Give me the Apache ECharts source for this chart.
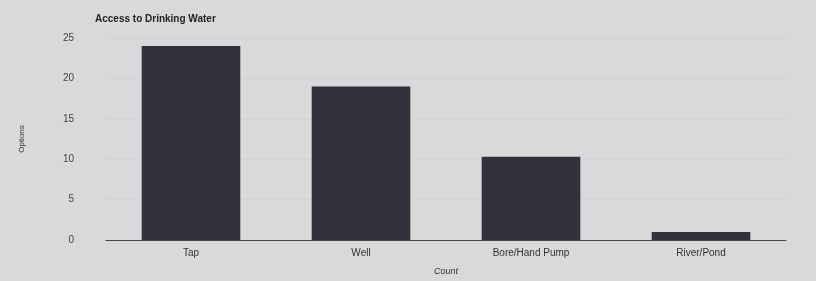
<!DOCTYPE html>
<html>
<head>
<meta charset="utf-8">
<script src="https://cdn.jsdelivr.net/npm/echarts@6/dist/echarts.min.js"></script>
<style>
  html, body { margin: 0; padding: 0; background: #d9d9db; }
  #chart { width: 816px; height: 281px; }
</style>
</head>
<body>
<div id="chart"></div>
<script>
// data
const categories = ["Tap", "Well", "Bore/Hand Pump", "River/Pond"];
const counts = [24, 19, 10.3, 1];
const yTicks = [0, 5, 10, 15, 20, 25];

const chart = echarts.init(document.getElementById("chart"));

const option = {
  backgroundColor: "#d9d9db",
  title: {
    text: "Access to Drinking Water",
    left: 90,
    top: 9,
    textStyle: { fontFamily: "Liberation Sans", fontSize: 10, fontWeight: "bold", color: "#222" }
  },
  grid: { left: 106, right: 30, top: 38, bottom: 41 },
  xAxis: {
    type: "category",
    data: categories,
    name: "Count",
    nameLocation: "middle",
    nameGap: 27,
    nameTextStyle: { fontStyle: "italic", fontSize: 9, color: "#333", fontFamily: "Liberation Sans" },
    axisLine: { lineStyle: { color: "#444" } },
    axisTick: { show: false },
    axisLabel: { fontSize: 10, color: "#333", margin: 8, fontFamily: "Liberation Sans" }
  },
  yAxis: {
    type: "value",
    min: 0,
    max: yTicks[yTicks.length - 1],
    interval: 5,
    name: "Options",
    nameLocation: "middle",
    nameGap: 80,
    nameTextStyle: { fontSize: 8, color: "#333", fontFamily: "Liberation Sans" },
    axisLine: { show: false },
    axisTick: { show: false },
    axisLabel: { fontSize: 10, color: "#444", margin: 32, fontFamily: "Liberation Sans" },
    splitLine: { lineStyle: { color: "#d2d2d5" } }
  },
  series: [
    {
      type: "bar",
      data: counts,
      barWidth: "58%",
      itemStyle: { color: "#30313a" }
    }
  ]
};

chart.setOption(option);
</script>
</body>
</html>
